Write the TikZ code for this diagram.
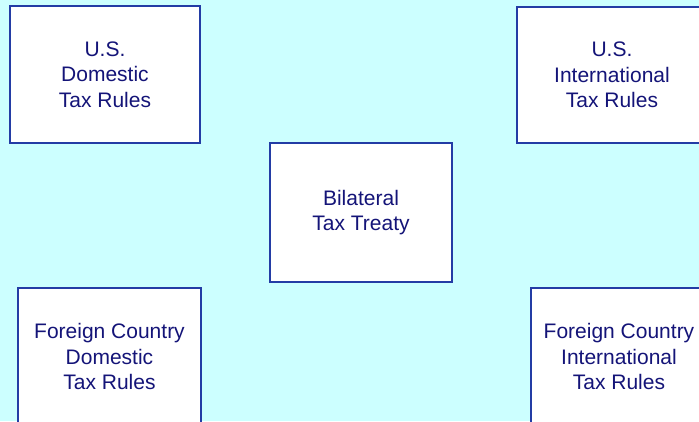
\documentclass[tikz,border=0pt]{standalone}
\usepackage{fontspec}
\setmainfont{Liberation Sans}
\definecolor{bgcyan}{RGB}{204,255,255}
\definecolor{boxline}{RGB}{35,60,165}
\definecolor{txtnavy}{RGB}{20,20,120}
\begin{document}
\begin{tikzpicture}[x=1pt,y=1pt,
  taxbox/.style={draw=boxline,line width=1.3pt,fill=white,text=txtnavy,
    align=center,inner sep=0pt,
    font=\fontsize{21}{25.5}\selectfont}]
\useasboundingbox (0,0) rectangle (699,421);
\fill[bgcyan] (0,0) rectangle (699,421);
\clip (0,0) rectangle (699,421);
\node[taxbox,minimum width=190pt,minimum height=137pt] (usdom) at (105,346.5) {U.S.\\Domestic\\Tax Rules};
\node[taxbox,minimum width=190pt,minimum height=136pt] (usint) at (612,346) {U.S.\\International\\Tax Rules};
\node[taxbox,minimum width=182pt,minimum height=139pt] (treaty) at (361,208.5) {Bilateral\\Tax Treaty};
\node[taxbox,minimum width=183pt,minimum height=137pt] (fcdom) at (109.5,64.5) {Foreign Country\\Domestic\\Tax Rules};
\node[taxbox,minimum width=176pt,minimum height=137pt] (fcint) at (619,64.5) {Foreign Country\\International\\Tax Rules};
\end{tikzpicture}
\end{document}
